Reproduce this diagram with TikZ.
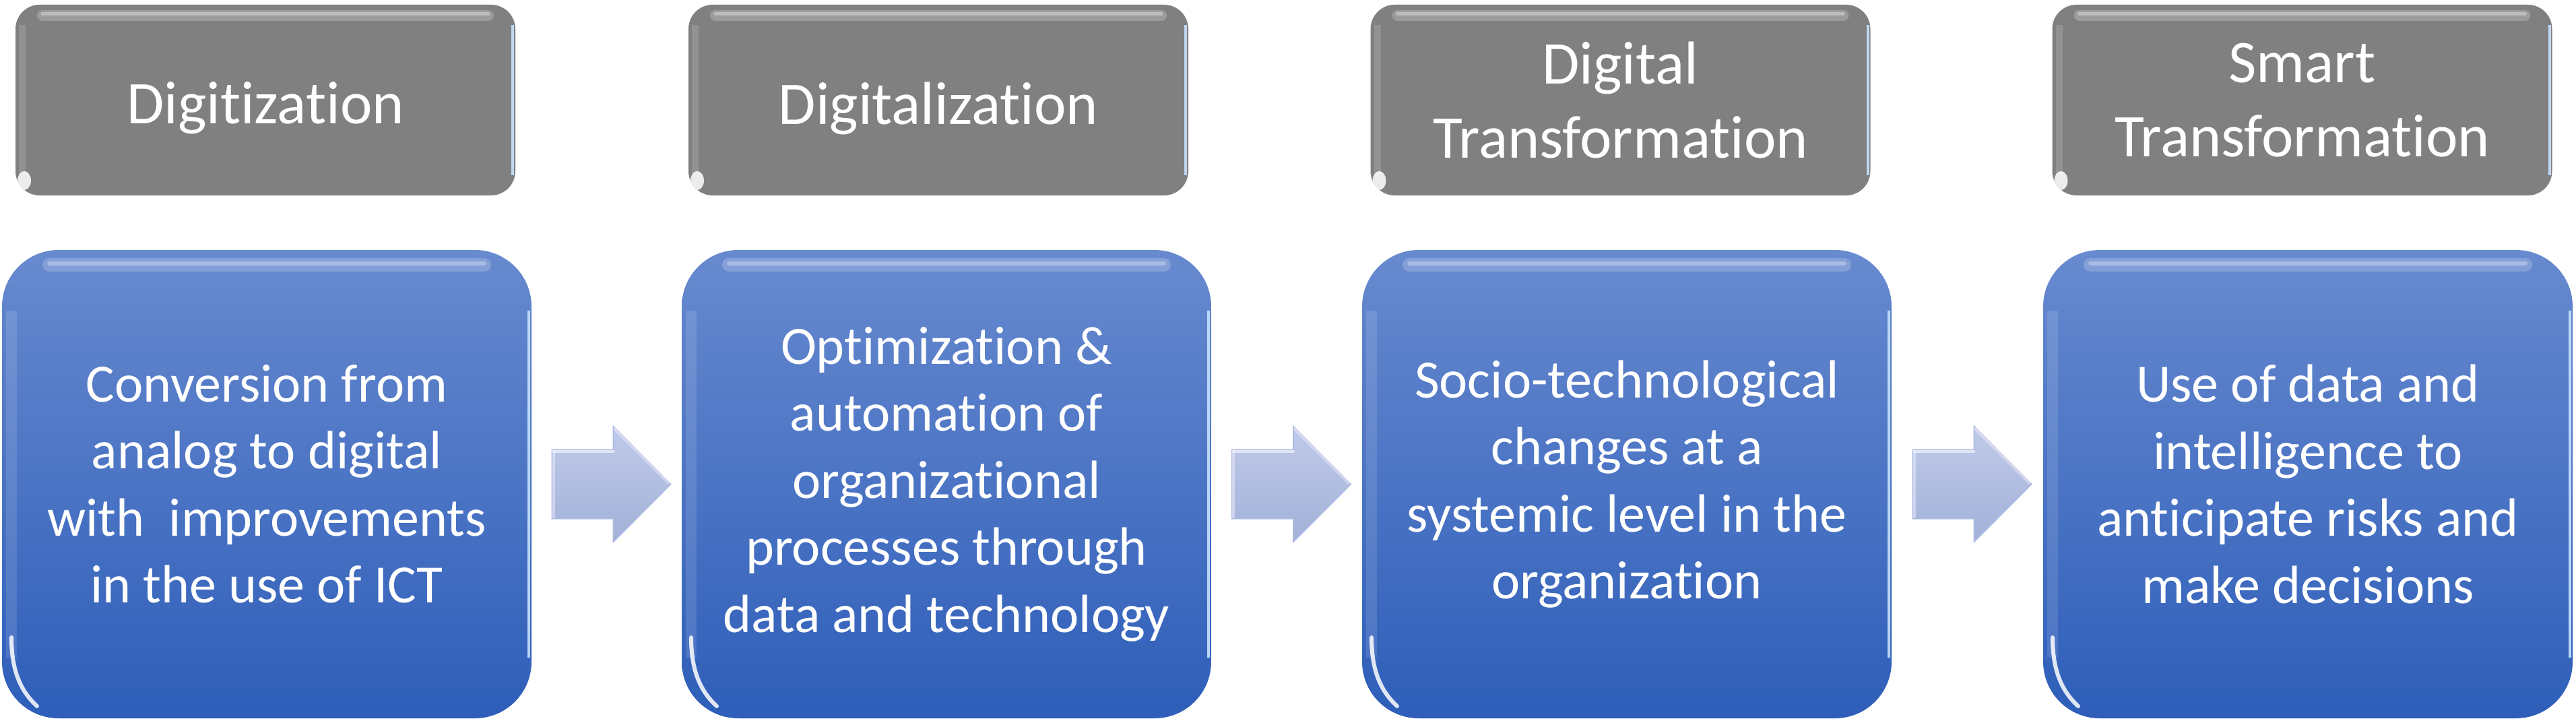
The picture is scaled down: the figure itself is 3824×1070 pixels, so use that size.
\documentclass[tikz,border=0pt]{standalone}
\usepackage{fontspec}
\setmainfont{Carlito}[Ligatures=NoCommon]
\usetikzlibrary{calc}
\definecolor{bluetop}{RGB}{104,138,207}
\definecolor{bluebot}{RGB}{46,94,185}
\definecolor{grayfill}{RGB}{128,128,128}
\definecolor{arrtop}{RGB}{192,202,234}
\definecolor{arrbot}{RGB}{163,177,216}
\definecolor{arredge}{RGB}{172,186,226}
\definecolor{rimblue}{RGB}{200,225,255}
\tikzset{
  bluebox/.style={rectangle, rounded corners=42pt, minimum width=393pt, minimum height=347.5pt,
    inner sep=0pt, top color=bluetop, bottom color=bluebot, draw=none, text=white, align=center,
    font=\fontsize{40}{49.75}\selectfont,
    path picture={
      \draw[white, opacity=0.2, line width=10pt, line cap=round]
        ([shift={(70,22)}]path picture bounding box.north west) -- ([shift={(-70,22)}]path picture bounding box.north east);
      \draw[white, opacity=0.3, line width=3pt, line cap=round]
        ([shift={(70,20)}]path picture bounding box.north west) -- ([shift={(-70,20)}]path picture bounding box.north east);
      \draw[white, opacity=0.12, line width=8pt]
        ([shift={(14,90)}]path picture bounding box.north west) -- ([shift={(14,-90)}]path picture bounding box.south west);
      \draw[rimblue, opacity=0.9, line width=2pt]
        ([shift={(-4,90)}]path picture bounding box.north east) -- ([shift={(-4,-90)}]path picture bounding box.south east);
      \draw[white, opacity=0.85, line width=3pt, line cap=round]
        ([shift={(14,-120)}]path picture bounding box.south west) .. controls ([shift={(14,-70)}]path picture bounding box.south west) and ([shift={(28,-40)}]path picture bounding box.south west) .. ([shift={(52,-18)}]path picture bounding box.south west);
    }},
  graybox/.style={rectangle, rounded corners=18pt, minimum width=371pt, minimum height=141.5pt,
    inner sep=0pt, fill=grayfill, draw=none, text=white, align=center,
    font=\fontsize{45}{55}\selectfont,
    path picture={
      \draw[white, opacity=0.22, line width=8pt, line cap=round]
        ([shift={(40,16)}]path picture bounding box.north west) -- ([shift={(-40,16)}]path picture bounding box.north east);
      \draw[white, opacity=0.35, line width=2.5pt, line cap=round]
        ([shift={(40,14)}]path picture bounding box.north west) -- ([shift={(-40,14)}]path picture bounding box.north east);
      \draw[white, opacity=0.15, line width=5pt]
        ([shift={(10,30)}]path picture bounding box.north west) -- ([shift={(10,-30)}]path picture bounding box.south west);
      \draw[rimblue, opacity=0.9, line width=2pt]
        ([shift={(-4,30)}]path picture bounding box.north east) -- ([shift={(-4,-30)}]path picture bounding box.south east);
      \fill[white, opacity=0.85]
        ([shift={(13,-22)}]path picture bounding box.south west) circle[x radius=5pt, y radius=7pt];
    }},
  blockarrow/.style={top color=arrtop, bottom color=arrbot, draw=arredge, line width=1pt, line join=miter},
  arrowshine/.style={white, opacity=0.6, line width=2pt, line cap=round}
}
\newcommand{\lowered}[1]{\raisebox{-6pt}[\height][\depth]{#1}}
\begin{document}
\begin{tikzpicture}[x=0.5pt,y=-0.5pt]
\useasboundingbox (0,0) rectangle (3824,1070);

% header boxes
\node[graybox] (g1) at (394,148.5) {\lowered{Digitization}};
\node[graybox] (g2) at (1393,148.5) {\lowered{Digitalization}};
\node[graybox] (g3) at (2405.5,148.5) {Digital\\Transformation};
\node[graybox] (g4) at (3417.5,148.5) {Smart\\Transformation};

% description boxes
\node[bluebox] (b1) at (396,718.5) {Conversion from\\analog to digital\\with~ improvements\\in the use of ICT};
\node[bluebox] (b2) at (1405,718.5) {Optimization \&\\automation of\\organizational\\processes through\\data and technology};
\node[bluebox] (b3) at (2415,718.5) {Socio-technological\\changes at a\\systemic level in the\\organization};
\node[bluebox] (b4) at (3426,718.5) {Use of data and\\intelligence to\\anticipate risks and\\make decisions};

% block arrows between boxes
\foreach \i/\j in {1/2,2/3,3/4}{
  \coordinate (a\i) at ($(b\i.east)!0.5!(b\j.west)$);
  \shade[blockarrow] (a\i) ++(-81,-51) -- ++(91,0) -- ++(0,-34.5) -- ++(85,85.5) -- ++(-85,85.5) -- ++(0,-34.5) -- ++(-91,0) -- cycle;
  \draw[arrowshine] (a\i) ++(-79,-49) -- ++(89,0);
  \draw[arrowshine, opacity=0.4] (a\i) ++(-79,-49) -- ++(0,98);
  \draw[arrowshine, opacity=0.4] (a\i) ++(12,-82) -- ++(80,80);
}
\end{tikzpicture}
\end{document}
